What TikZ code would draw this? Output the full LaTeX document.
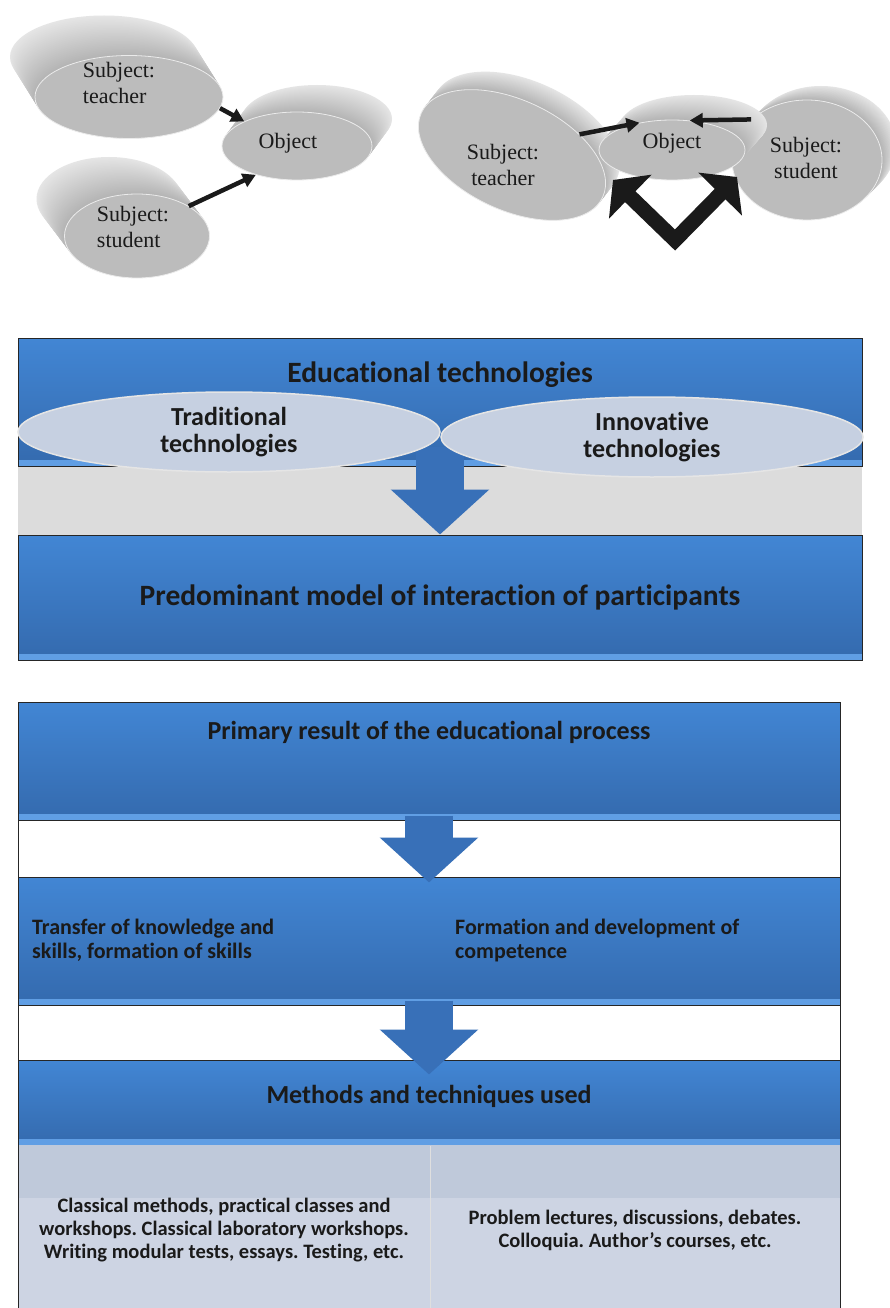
\documentclass[tikz,border=0pt]{standalone}
\usepackage{fontspec}
\setmainfont{Liberation Serif}
\newfontfamily\boxfont{Carlito}[Ligatures={NoCommon,NoContextual}]
\usetikzlibrary{arrows.meta,shapes.geometric,positioning,calc}
\frenchspacing

\definecolor{boxtop}{RGB}{66,134,212}
\definecolor{boxbot}{RGB}{52,106,174}
\definecolor{boxrim}{RGB}{96,158,228}
\definecolor{arrowblue}{RGB}{56,112,184}
\definecolor{ovalfill}{RGB}{198,208,225}
\definecolor{bandgrey}{RGB}{220,220,220}
\definecolor{celltop}{RGB}{191,201,218}
\definecolor{cellbot}{RGB}{205,212,227}
\definecolor{discgrey}{RGB}{188,188,188}
\definecolor{ink}{RGB}{26,26,26}

\tikzstyle{discside}=[
    ellipse,
    draw=none,
    inner sep=0pt
]
\tikzstyle{discface}=[
    ellipse,
    fill=discgrey,
    draw=black!8,
    line width=0.8pt,
    inner sep=0pt
]
\tikzstyle{disctext}=[
    font=\fontsize{22}{26}\selectfont,
    text=ink,
    inner sep=0pt
]
\tikzstyle{link}=[
    -{Triangle[width=14pt,length=13pt]},
    line width=4.5pt,
    draw=ink
]
\tikzstyle{bigv}=[
    {Triangle[width=60pt,length=24pt]}-{Triangle[width=60pt,length=24pt]},
    line width=15pt,
    line join=miter,
    draw=ink
]
\tikzstyle{bluebox}=[
    rectangle,
    draw=black!85,
    line width=1pt,
    top color=boxtop,
    bottom color=boxbot,
    inner sep=0pt,
    path picture={\fill[boxrim] (path picture bounding box.south west) rectangle ([yshift=6pt]path picture bounding box.south east);}
]
\tikzstyle{headtext}=[
    font=\boxfont\bfseries\fontsize{29.5}{34}\selectfont,
    text=ink,
    align=center
]
\tikzstyle{oval}=[
    ellipse,
    fill=ovalfill,
    draw=white!90!black,
    line width=1.5pt,
    inner sep=0pt,
    font=\boxfont\bfseries\fontsize{26}{27}\selectfont,
    text=ink,
    align=center
]
\tikzstyle{bodytext}=[
    font=\boxfont\bfseries\fontsize{22}{24}\selectfont,
    text=ink,
    align=left,
    inner sep=0pt
]
\tikzstyle{celltext}=[
    font=\boxfont\bfseries\fontsize{20.5}{23}\selectfont,
    text=ink,
    align=center,
    inner sep=0pt
]
\tikzstyle{flow}=[
    -{Triangle[width=96pt,length=45pt]},
    line width=48pt,
    draw=arrowblue
]

% #1 name, #2 centre, #3 width, #4 height, #5 turn, #6 offset of the back
\newcommand{\disc}[6]{%
  \foreach \layer in {1.00,0.96,...,0.02} {
    \pgfmathsetmacro{\tone}{10+20*(1-\layer)}
    \node[discside, minimum width=#3, minimum height=#4, rotate=#5,
          fill=black!\tone] at ($(#2)+\layer*(#6)$) {};
  }
  \node[discface, minimum width=#3, minimum height=#4, rotate=#5] (#1) at (#2) {};
}

\begin{document}
\begin{tikzpicture}[x=1pt,y=-1pt]
\useasboundingbox (0,0) rectangle (889,1308);
\fill[white] (0,0) rectangle (889,1308);

% subject-object model
\disc{lteach}{129,97}{188}{83}{0}{-25,-40}
\disc{lstud}{137,236}{145}{84}{0}{-28,-37}
\disc{lobj}{297,146}{150}{68}{0}{20,-27}
\node[disctext, align=left] (lteachlab) at (119,83) {Subject:\\teacher};
\node[disctext, align=left] (lstudlab) at (133,227) {Subject:\\student};
\node[disctext] (lobjlab) at (288,143) {Object};
\draw[link] (lteach.-7) -- (lobj.155);
\draw[link] (lstud.30) -- (lobj.215);

% subject-subject model
\disc{rteach}{512,155}{200}{110}{-25}{14,-18}
\disc{rstud}{807,160}{150}{120}{0}{14,-14}
\disc{robj}{672,150}{146}{60}{0}{22,-25}
\node[disctext, align=center] (rteachlab) at (503,165) {Subject:\\teacher};
\node[disctext, align=center] (rstudlab) at (806,158) {Subject:\\student};
\node[disctext] (robjlab) at (672,143) {Object};
\draw[link] (rteach.42) -- (robj.140);
\draw[link] (rstud.144) -- (robj.59);
\coordinate (vleft) at (613,180);
\coordinate (vbase) at (675,240);
\coordinate (vright) at (737,177);
\draw[bigv] (vleft) -- (vbase) -- (vright);

% technologies
\fill[bandgrey] (18,466) rectangle (862,535);
\node[bluebox, minimum width=844, minimum height=128] (edtech) at (440,402) {};
\node[headtext, below=21pt of edtech.north] (edtechlab) {Educational technologies};
\node[bluebox, minimum width=844, minimum height=125] (predom) at (440,597.5) {};
\node[headtext] (predomlab) at (predom) {Predominant model of interaction of participants};
\draw[flow] ([yshift=20pt]edtech.south) -- (predom.north);
\node[oval, minimum width=422, minimum height=80] (trad) at (229,432) {Traditional\\technologies};
\node[oval, minimum width=422, minimum height=80] (innov) at (652,437) {Innovative\\technologies};

% result and methods
\draw[black!85, line width=1pt] (18,702) -- (18,1308) (840,702) -- (840,1308);
\node[bluebox, minimum width=822, minimum height=118] (primary) at (429,761) {};
\node[headtext, font=\boxfont\bfseries\fontsize{26}{30}\selectfont, below=16pt of primary.north] (primarylab)
    {Primary result of the educational process};
\node[bluebox, minimum width=822, minimum height=128] (transfer) at (429,941) {};
\node[bodytext, anchor=west] (transl) at (32,940) {Transfer of knowledge and\\skills, formation of skills};
\node[bodytext, anchor=west] (transr) at (455,940) {Formation and development of\\competence};
\node[bluebox, minimum width=822, minimum height=85] (methods) at (429,1102.5) {};
\node[headtext, font=\boxfont\bfseries\fontsize{26}{30}\selectfont] (methodslab) at (429,1096)
    {Methods and techniques used};
\fill[cellbot] (18.5,1145) rectangle (839.5,1308);
\fill[celltop] (18.5,1145) rectangle (839.5,1198);
\draw[white!75!gray, line width=1pt] (methods.south) ++(1,0) coordinate (split) -- (split |- 0,1308);
\node[celltext] (classic) at (224,1230)
    {Classical methods, practical classes and\\workshops. Classical laboratory workshops.\\Writing modular tests, essays. Testing, etc.};
\node[celltext] (problem) at (635,1230)
    {Problem lectures, discussions, debates.\\Colloquia. Author’s courses, etc.};
\draw[flow] ([yshift=5pt]primary.south) -- ([yshift=-6pt]transfer.north);
\draw[flow] ([yshift=5pt]transfer.south) -- ([yshift=-15pt]methods.north);
\end{tikzpicture}
\end{document}
